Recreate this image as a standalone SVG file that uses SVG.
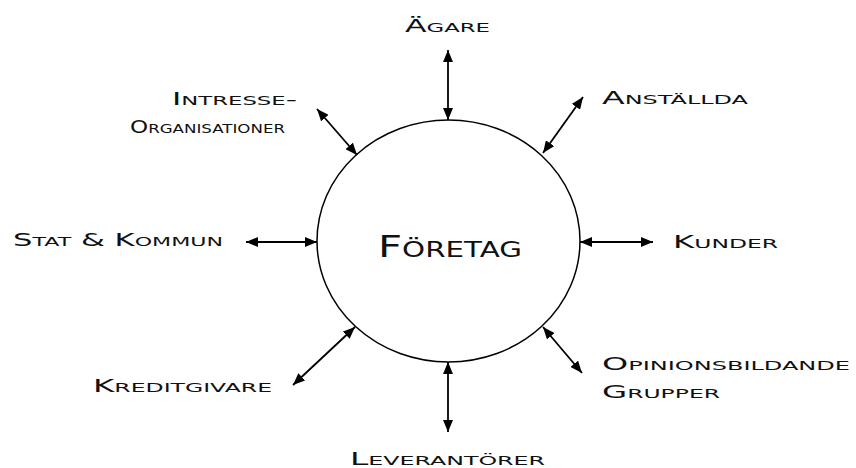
<svg xmlns="http://www.w3.org/2000/svg" width="856" height="468" viewBox="0 0 856 468">
<defs>
<marker id="ah" viewBox="0 0 12 10" refX="12" refY="5" markerWidth="12" markerHeight="10" markerUnits="userSpaceOnUse" orient="auto-start-reverse">
<path d="M0,0 L12,5 L0,10 Z" fill="#000"/>
</marker>
<style>
.lbl{font-family:"DejaVu Sans","Liberation Sans",sans-serif;font-size:18px;font-variant:small-caps;fill:#111;}
.big{font-size:30px;}
.conn line{stroke:#000;stroke-width:1.8;marker-start:url(#ah);marker-end:url(#ah);}
</style>
</defs>
<rect width="856" height="468" fill="#fff"/>
<g id="foretag">
<ellipse cx="448.5" cy="241" rx="131.5" ry="121" fill="#fff" stroke="#000" stroke-width="1.5"/>
<text class="lbl big" x="378" y="257" textLength="144" lengthAdjust="spacingAndGlyphs">Företag</text>
</g>
<g class="conn" id="connectors">
<line x1="448" y1="50" x2="448" y2="120"/>
<line x1="448" y1="362" x2="448" y2="432"/>
<line x1="246" y1="242" x2="317" y2="242"/>
<line x1="580" y1="242" x2="653" y2="242"/>
<line x1="317" y1="109" x2="357" y2="155"/>
<line x1="583" y1="97" x2="543" y2="153"/>
<line x1="293" y1="385" x2="355" y2="327"/>
<line x1="543" y1="327" x2="582" y2="373"/>
</g>
<g id="agare"><text class="lbl" x="405" y="32" textLength="85" lengthAdjust="spacingAndGlyphs">Ägare</text></g>
<g id="intresse">
<text class="lbl" x="172" y="105" textLength="125" lengthAdjust="spacingAndGlyphs">Intresse-</text>
<text class="lbl" x="130" y="133" textLength="155" lengthAdjust="spacingAndGlyphs">Organisationer</text>
</g>
<g id="anstallda"><text class="lbl" x="602" y="104" textLength="146" lengthAdjust="spacingAndGlyphs">Anställda</text></g>
<g id="stat"><text class="lbl" x="13" y="246" textLength="210" lengthAdjust="spacingAndGlyphs">Stat &amp; Kommun</text></g>
<g id="kunder"><text class="lbl" x="673" y="248" textLength="105" lengthAdjust="spacingAndGlyphs">Kunder</text></g>
<g id="kreditgivare"><text class="lbl" x="93" y="392" textLength="179" lengthAdjust="spacingAndGlyphs">Kreditgivare</text></g>
<g id="opinion">
<text class="lbl" x="602" y="370" textLength="248" lengthAdjust="spacingAndGlyphs">Opinionsbildande</text>
<text class="lbl" x="602" y="398" textLength="118" lengthAdjust="spacingAndGlyphs">Grupper</text>
</g>
<g id="leverantorer"><text class="lbl" x="350" y="465" textLength="195" lengthAdjust="spacingAndGlyphs">Leverantörer</text></g>
</svg>
